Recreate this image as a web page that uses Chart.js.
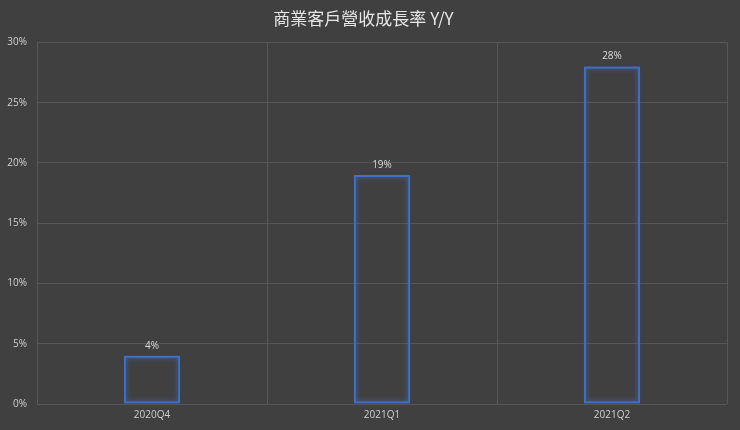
<!DOCTYPE html>
<html><head><meta charset="utf-8">
<script src="https://cdn.jsdelivr.net/npm/chart.js@4/dist/chart.umd.min.js"></script>
<style>
html,body{margin:0;padding:0;background:#404040;}
#wrap{width:740px;height:430px;}
</style></head>
<body><div id="wrap"><canvas id="c"></canvas></div>
<script>
const categories = ['2020Q4','2021Q1','2021Q2'];
const growth = [4, 19, 28];
const yMax = 30;
const yStep = 5;
const titleText = '商業客戶營收成長率 Y/Y';

const glow = {
  id:'glow',
  beforeDatasetDraw(chart){ const c=chart.ctx; c.save(); c.shadowColor='rgba(70,130,230,0.8)'; c.shadowBlur=5; },
  afterDatasetDraw(chart){ chart.ctx.restore(); }
};
const labels = {
  id:'labels',
  afterDatasetsDraw(chart){
    const c=chart.ctx; const meta=chart.getDatasetMeta(0);
    c.save(); c.fillStyle='#d9d9d9'; c.font='10px "Open Sans", sans-serif';
    c.textAlign='center'; c.textBaseline='bottom';
    meta.data.forEach((b,i)=>{ c.fillText(growth[i]+'%', b.x, b.y-5); });
    c.restore();
  }
};

new Chart(document.getElementById('c'),{
  type:'bar',
  data:{labels:categories,datasets:[{data:growth,backgroundColor:'rgba(0,0,0,0)',borderColor:'#3f70cc',borderWidth:2,borderSkipped:false,barPercentage:0.245,categoryPercentage:1}]},
  options:{
    responsive:true,maintainAspectRatio:false,animation:false,
    layout:{padding:{left:0,right:13,top:0,bottom:0}},
    plugins:{
      legend:{display:false},tooltip:{enabled:false},
      title:{display:true,text:titleText,color:'#e6e6e6',font:{family:'"Noto Sans CJK TC"',size:17,weight:'normal'},padding:{top:8,bottom:14}}
    },
    scales:{
      x:{grid:{color:'#575757',drawTicks:false,offset:true},border:{display:false},
         ticks:{color:'#d0d0d0',font:{family:'"Open Sans"',size:10},padding:5},
         afterFit(s){s.height=26;}},
      y:{min:0,max:yMax,grid:{color:'#575757',drawTicks:false},border:{display:false},
         ticks:{stepSize:yStep,color:'#d0d0d0',font:{family:'"Open Sans"',size:10},padding:10,callback:v=>v+'%'},
         afterFit(s){s.width=37;}}
    }
  },
  plugins:[glow,labels]
});
</script></body></html>
